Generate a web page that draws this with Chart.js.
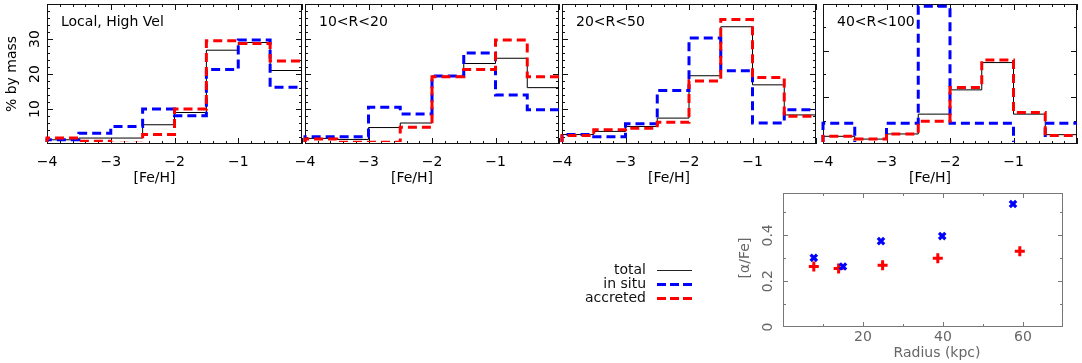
<!DOCTYPE html>
<html><head><meta charset="utf-8">
<script src="https://cdn.jsdelivr.net/npm/chart.js@4/dist/chart.umd.min.js"></script>
<style>
html,body{margin:0;padding:0;background:#fff;width:1082px;height:363px;overflow:hidden;}
canvas{position:absolute;left:0;top:0;}
</style></head><body>
<canvas id="p1" width="1082" height="363"></canvas>
<canvas id="p2" width="1082" height="363"></canvas>
<canvas id="p3" width="1082" height="363"></canvas>
<canvas id="p4" width="1082" height="363"></canvas>
<canvas id="p5" width="1082" height="363"></canvas>
<script>
// ---- data ----
const binEdges = [-4, -3.5, -3, -2.5, -2, -1.5, -1, -0.5, 0];
const fehTicks = [-4, -3, -2, -1];
const fehTickLabels = ['\u22124', '\u22123', '\u22122', '\u22121'];
const panelTitles = ['Local, High Vel', '10<R<20', '20<R<50', '40<R<100'];

const totalLocal    = [1.2, 1.7, 1.7, 5.5, 9.0, 26.8, 29.0, 21.0];
const insituLocal   = [1.2, 3.1, 5.0, 10.0, 8.1, 21.3, 29.7, 16.2];
const accretedLocal = [1.7, 0.8, 0.2, 2.7, 10.0, 29.5, 28.7, 23.7];

const total10_20    = [1.6, 1.3, 4.7, 6.0, 19.4, 23.0, 24.5, 16.1];
const insitu10_20   = [2.1, 2.1, 10.5, 8.6, 19.4, 26.0, 14.0, 9.8];
const accreted10_20 = [1.4, 0.5, 0.5, 4.8, 19.2, 21.3, 29.7, 19.2];

const total20_50    = [2.7, 3.6, 5.0, 7.4, 19.5, 33.5, 16.9, 8.3];
const insitu20_50   = [2.7, 2.1, 5.8, 15.3, 30.3, 20.9, 6.0, 9.8];
const accreted20_50 = [2.4, 4.1, 4.5, 6.2, 18.0, 35.6, 19.0, 7.9];

const total40_100    = [3.3, 2.1, 4.3, 12.8, 23.2, 34.9, 12.8, 4.0];
const insitu40_100   = [8.9, 0.0, 8.9, 59.0, 8.9, 8.9, 0.0, 8.9];
const accreted40_100 = [3.3, 2.1, 4.3, 9.7, 24.2, 36.0, 13.5, 3.6];

const pctTicks = [10, 20, 30];
const pctTickLabels = ['10', '20', '30'];

const radiusInsitu   = [7.7, 15.0, 24.5, 39.8, 57.5];
const alphaInsitu    = [0.302, 0.264, 0.375, 0.397, 0.537];
const radiusAccreted = [7.7, 13.9, 24.9, 38.7, 59.2];
const alphaAccreted  = [0.264, 0.255, 0.270, 0.300, 0.331];
const radiusTicks = [20, 40, 60];
const radiusTickLabels = ['20', '40', '60'];
const alphaTicks = [0, 0.2, 0.4];
const alphaTickLabels = ['0', '0.2', '0.4'];

const legendLabels = ['total', 'in situ', 'accreted'];

// ---- styling ----
const W = 1082, H = 363;
const FONT = "14px 'DejaVu Sans', sans-serif";
const BLUE = '#0000ff', RED = '#ff0000', BLACK = '#000000';

function range(a, b, s) { const r = []; for (let v = a; v <= b + 1e-9; v += s) r.push(+v.toFixed(4)); return r; }

const decorConfigs = {};

function rotText(ctx, t, x, y) {
  ctx.save(); ctx.translate(x, y); ctx.rotate(-Math.PI / 2);
  ctx.fillText(t, 0, 0); ctx.restore();
}

const decorPlugin = {
  id: 'decor',
  beforeDatasetsDraw(chart) {
    const c = decorConfigs[chart.canvas.id]; if (!c) return;
    const ctx = chart.ctx, a = chart.chartArea, xs = chart.scales.x, ys = chart.scales.y;
    ctx.save();
    ctx.strokeStyle = c.frameColor; ctx.lineWidth = 1;
    ctx.strokeRect(a.left + 0.5, a.top + 0.5, a.right - a.left - 1, a.bottom - a.top - 1);
    ctx.beginPath();
    const addX = (vals, len) => vals.forEach(v => {
      const px = Math.round(xs.getPixelForValue(v)) + 0.5;
      ctx.moveTo(px, a.bottom); ctx.lineTo(px, a.bottom - len);
      ctx.moveTo(px, a.top); ctx.lineTo(px, a.top + len);
    });
    const addY = (vals, len) => vals.forEach(v => {
      const py = Math.round(ys.getPixelForValue(v)) + 0.5;
      ctx.moveTo(a.left, py); ctx.lineTo(a.left + len, py);
      ctx.moveTo(a.right, py); ctx.lineTo(a.right - len, py);
    });
    addX(c.xMajor, c.majorLen); addX(c.xMinor, c.minorLen);
    addY(c.yMajor, c.majorLen); addY(c.yMinor, c.minorLen);
    ctx.stroke();
    ctx.restore();
  },
  afterDraw(chart) {
    const c = decorConfigs[chart.canvas.id]; if (!c) return;
    const ctx = chart.ctx, a = chart.chartArea, xs = chart.scales.x, ys = chart.scales.y;
    ctx.save();
    ctx.fillStyle = c.textColor; ctx.font = FONT;
    ctx.textAlign = 'center'; ctx.textBaseline = 'middle';
    c.xLabelVals.forEach((v, i) => ctx.fillText(c.xLabelText[i], xs.getPixelForValue(v), c.xLabelY));
    if (c.xTitle) ctx.fillText(c.xTitle, c.xTitleX, c.xTitleY);
    if (c.yLabelVals) c.yLabelVals.forEach((v, i) => rotText(ctx, c.yLabelText[i], c.yLabelX, ys.getPixelForValue(v)));
    if (c.yTitle) rotText(ctx, c.yTitle, c.yTitleX, c.yTitleY);
    if (c.inset) { ctx.textAlign = 'left'; ctx.fillStyle = '#000'; ctx.fillText(c.inset, a.left + 14, a.top + 18); }
    if (c.legend) {
      c.legend.forEach((it, i) => {
        const yy = c.legendY + i * 14;
        ctx.textAlign = 'right'; ctx.fillStyle = '#111';
        ctx.fillText(it.label, c.legendTextX, yy);
        ctx.beginPath(); ctx.strokeStyle = it.color; ctx.lineWidth = it.width;
        ctx.setLineDash(it.dash); ctx.moveTo(c.legendLineX0, yy + 0.5); ctx.lineTo(c.legendLineX1, yy + 0.5); ctx.stroke();
        ctx.setLineDash([]);
      });
    }
    ctx.restore();
  }
};
Chart.register(decorPlugin);

function stepPoints(vals) {
  const pts = [{ x: binEdges[0], y: 0 }];
  vals.forEach((v, i) => pts.push({ x: binEdges[i], y: v }));
  pts.push({ x: binEdges[binEdges.length - 1], y: vals[vals.length - 1] });
  return pts;
}

function baseOptions(rect, xMin, xMax, yMin, yMax) {
  return {
    responsive: false, animation: false, devicePixelRatio: 1, events: [],
    layout: { padding: { left: rect[0], right: W - rect[1], top: rect[2], bottom: H - rect[3] } },
    plugins: { legend: { display: false }, tooltip: { enabled: false } },
    scales: {
      x: { type: 'linear', min: xMin, max: xMax, display: false },
      y: { type: 'linear', min: yMin, max: yMax, display: false }
    }
  };
}

function histPanel(id, rect, total, insitu, accreted, yMax, yMajor, yMinor, title, showY) {
  const cx = (rect[0] + rect[1]) / 2 - 20;
  decorConfigs[id] = {
    frameColor: '#111', textColor: '#000', majorLen: 6, minorLen: 3,
    xMajor: [-4, -3, -2, -1, 0], xMinor: range(-4, 0, 0.2),
    yMajor: yMajor, yMinor: yMinor,
    xLabelVals: fehTicks, xLabelText: fehTickLabels, xLabelY: 162,
    xTitle: '[Fe/H]', xTitleX: cx, xTitleY: 178,
    yLabelVals: showY ? pctTicks : null, yLabelText: pctTickLabels, yLabelX: 35,
    yTitle: showY ? '% by mass' : null, yTitleX: 12, yTitleY: 74,
    inset: title
  };
  const ds = (vals, color, w, dash, order) => ({
    data: stepPoints(vals), stepped: true, borderColor: color, borderWidth: w, borderDash: dash,
    pointRadius: 0, fill: false, tension: 0, order: order,
    clip: { left: 2, right: 2, top: 2, bottom: -2 }
  });
  new Chart(document.getElementById(id), {
    type: 'line',
    data: { datasets: [ds(total, BLACK, 1, [], 3), ds(insitu, BLUE, 3, [9, 5], 2), ds(accreted, RED, 3, [9, 5], 1)] },
    options: baseOptions(rect, -4, 0, 0, yMax)
  });
}

histPanel('p1', [47, 302, 4, 144], totalLocal, insituLocal, accretedLocal, 40, [10, 20, 30], range(2, 38, 2), panelTitles[0], true);
histPanel('p2', [305, 559, 4, 144], total10_20, insitu10_20, accreted10_20, 40, [10, 20, 30], range(2, 38, 2), panelTitles[1], false);
histPanel('p3', [562, 816, 4, 144], total20_50, insitu20_50, accreted20_50, 40, [10, 20, 30], range(2, 38, 2), panelTitles[2], false);
histPanel('p4', [823, 1077, 4, 144], total40_100, insitu40_100, accreted40_100, 60, [20, 40], [10, 30, 50], panelTitles[3], false);

// scatter panel
decorConfigs['p5'] = {
  frameColor: '#777', textColor: '#666', majorLen: 5, minorLen: 3,
  xMajor: [20, 40, 60], xMinor: [10, 30, 50],
  yMajor: [0.2, 0.4], yMinor: [0.1, 0.3, 0.5],
  xLabelVals: radiusTicks, xLabelText: radiusTickLabels, xLabelY: 337,
  xTitle: 'Radius (kpc)', xTitleX: 937, xTitleY: 353,
  yLabelVals: alphaTicks, yLabelText: alphaTickLabels, yLabelX: 768,
  yTitle: '[\u03b1/Fe]', yTitleX: 745, yTitleY: 258,
  inset: null,
  legend: [
    { label: legendLabels[0], color: '#222', width: 1, dash: [] },
    { label: legendLabels[1], color: BLUE, width: 3, dash: [9, 4] },
    { label: legendLabels[2], color: RED, width: 3, dash: [9, 4] }
  ],
  legendY: 270, legendTextX: 646, legendLineX0: 657, legendLineX1: 692
};
new Chart(document.getElementById('p5'), {
  type: 'scatter',
  data: {
    datasets: [
      { data: radiusInsitu.map((r, i) => ({ x: r, y: alphaInsitu[i] })), pointStyle: 'crossRot', pointRadius: 4.5, borderWidth: 3.2, borderColor: BLUE, backgroundColor: BLUE },
      { data: radiusAccreted.map((r, i) => ({ x: r, y: alphaAccreted[i] })), pointStyle: 'cross', pointRadius: 5, borderWidth: 3, borderColor: RED, backgroundColor: RED }
    ]
  },
  options: baseOptions([783, 1063, 193, 327], 0, 70, 0, 0.585)
});
</script>
</body></html>
